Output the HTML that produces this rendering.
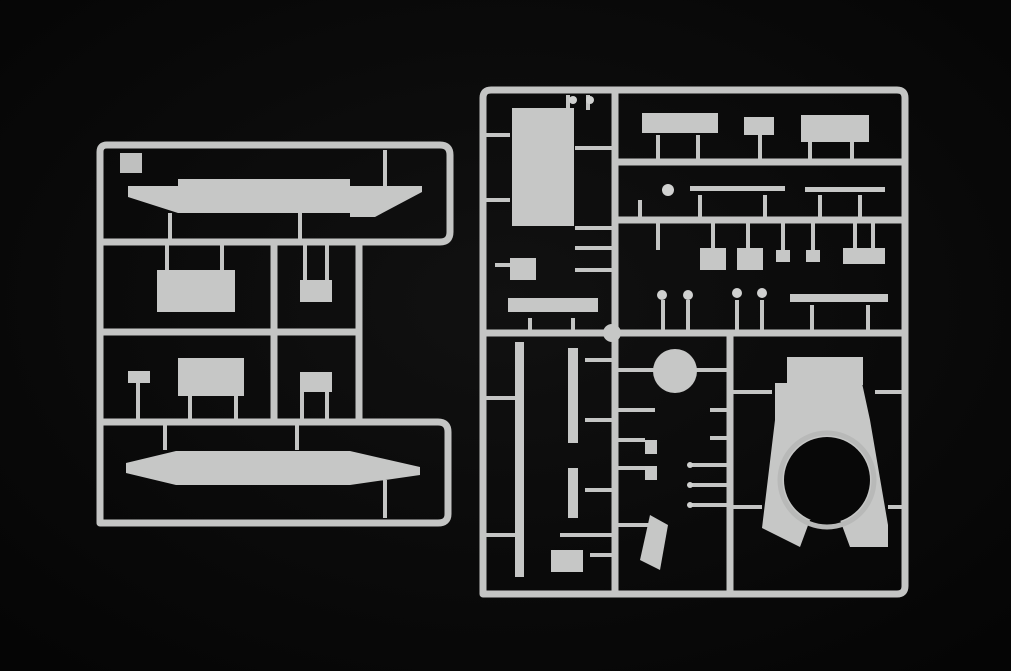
<!DOCTYPE html>
<html><head><style>
html,body{margin:0;padding:0;background:#080808;}
svg{display:block}
</style></head><body>
<svg width="1011" height="671" viewBox="0 0 1011 671" xmlns="http://www.w3.org/2000/svg">
<defs>
<radialGradient id="bg" cx="50%" cy="45%" r="70%"><stop offset="0" stop-color="#111"/><stop offset="1" stop-color="#050505"/></radialGradient>
</defs>
<rect width="1011" height="671" fill="url(#bg)"/>
<g stroke="#c4c5c4" stroke-width="7" fill="none" stroke-linecap="round">
<!-- LEFT sprue frame -->
<path d="M100 522 L100 152 Q100 145 107 145 L440 145 Q450 145 450 155 L450 232 Q450 242 440 242 L100 242"/>
<path d="M100 332 L359 332 M274 242 L274 422 M359 242 L359 422"/>
<path d="M100 422 L438 422 Q448 422 448 432 L448 514 Q448 523 438 523 L100 523"/>
<!-- RIGHT sprue frame -->
<path d="M483 594 L483 98 Q483 90 491 90 L897 90 Q905 90 905 98 L905 586 Q905 594 897 594 L483 594"/>
<path d="M615 90 L615 594 M615 162 L905 162 M615 220 L905 220 M483 333 L905 333 M730 333 L730 594"/>
</g>
<g stroke="#c4c5c4" stroke-width="4" fill="none">
<!-- left gates -->
<path d="M170 213 L170 242 M300 213 L300 242 M385 150 L385 190"/>
<path d="M167 242 L167 270 M222 242 L222 270 M305 242 L305 285 M327 242 L327 285"/>
<path d="M138 380 L138 422 M190 395 L190 422 M236 395 L236 422 M302 385 L302 422 M327 385 L327 422"/>
<path d="M165 422 L165 450 M297 422 L297 450 M385 480 L385 518"/>
<!-- right gates -->
<path d="M568 95 L568 110 M588 95 L588 110 M575 148 L615 148 M483 135 L510 135 M483 200 L510 200"/>
<path d="M658 135 L658 162 M698 135 L698 162 M760 130 L760 162 M810 140 L810 162 M852 140 L852 162"/>
<path d="M640 200 L640 220 M700 195 L700 220 M765 195 L765 220 M820 195 L820 220 M860 195 L860 220"/>
<path d="M658 220 L658 250 M713 220 L713 250 M748 220 L748 250 M783 220 L783 250 M813 220 L813 250 M855 220 L855 250 M873 220 L873 250"/>
<path d="M575 228 L615 228 M575 248 L615 248 M575 270 L615 270 M495 265 L525 265"/>
<path d="M663 300 L663 333 M688 300 L688 333 M737 300 L737 333 M762 300 L762 333 M812 305 L812 333 M868 305 L868 333 M530 318 L530 333 M573 318 L573 333"/>
<path d="M585 360 L615 360 M585 420 L615 420 M483 398 L515 398 M615 370 L660 370 M695 370 L730 370"/>
<path d="M615 410 L655 410 M615 440 L645 440 M615 468 L645 468 M710 410 L730 410 M710 438 L730 438 M690 465 L730 465 M690 485 L730 485 M690 505 L730 505"/>
<path d="M585 490 L615 490 M560 535 L615 535 M590 555 L615 555 M615 525 L650 525 M483 535 L515 535"/>
<path d="M730 392 L772 392 M875 392 L905 392 M730 507 L762 507 M888 507 L905 507"/>
</g>
<g fill="#c6c7c6">
<!-- left top hull -->
<polygon points="128,186 178,186 178,179 350,179 350,186 422,186 422,192 375,217 350,217 350,213 178,213 128,197"/>
<!-- left bottom hull -->
<polygon points="126,463 176,451 350,451 420,467 420,475 350,485 176,485 126,473"/>
<!-- small parts left -->
<rect x="157" y="270" width="78" height="42"/>
<rect x="300" y="280" width="32" height="22"/>
<rect x="178" y="358" width="66" height="38"/>
<rect x="128" y="371" width="22" height="12"/>
<rect x="300" y="372" width="32" height="20"/>
<rect x="120" y="153" width="22" height="20" fill="#bfc0bf"/>
<!-- right parts -->
<rect x="512" y="108" width="62" height="118"/>
<rect x="642" y="113" width="76" height="20"/>
<rect x="744" y="117" width="30" height="18"/>
<rect x="801" y="115" width="68" height="27"/>
<rect x="690" y="186" width="95" height="5"/>
<rect x="805" y="187" width="80" height="5"/>
<rect x="700" y="248" width="26" height="22"/>
<rect x="737" y="248" width="26" height="22"/>
<rect x="776" y="250" width="14" height="12"/>
<rect x="806" y="250" width="14" height="12"/>
<rect x="843" y="248" width="42" height="16"/>
<rect x="510" y="258" width="26" height="22"/>
<rect x="508" y="298" width="90" height="14"/>
<rect x="790" y="294" width="98" height="8"/>
<circle cx="675" cy="371" r="22"/>
<circle cx="612" cy="333" r="9"/>
<rect x="515" y="342" width="9" height="235"/>
<rect x="568" y="348" width="10" height="95"/>
<rect x="568" y="468" width="10" height="50"/>
<rect x="551" y="550" width="32" height="22"/>
<rect x="645" y="440" width="12" height="14"/>
<rect x="645" y="466" width="12" height="14"/>
<polygon points="650,515 668,525 660,570 640,560"/>
<!-- turret -->
<rect x="787" y="357" width="76" height="28"/>
<polygon points="775,383 862,383 870,420 888,525 888,547 850,547 840,520 810,520 800,547 762,528 775,420"/>
</g>
<circle cx="827" cy="480" r="47" fill="none" stroke="#b8b9b8" stroke-width="5"/>
<circle cx="827" cy="480" r="43" fill="#080808"/>
<g fill="#d0d1d0">
<circle cx="573" cy="100" r="4"/><circle cx="590" cy="100" r="4"/>
<circle cx="668" cy="190" r="6"/>
<circle cx="662" cy="295" r="5"/><circle cx="688" cy="295" r="5"/><circle cx="737" cy="293" r="5"/><circle cx="762" cy="293" r="5"/>
<circle cx="690" cy="465" r="3"/><circle cx="690" cy="485" r="3"/><circle cx="690" cy="505" r="3"/>
</g>
</svg>
</body></html>
